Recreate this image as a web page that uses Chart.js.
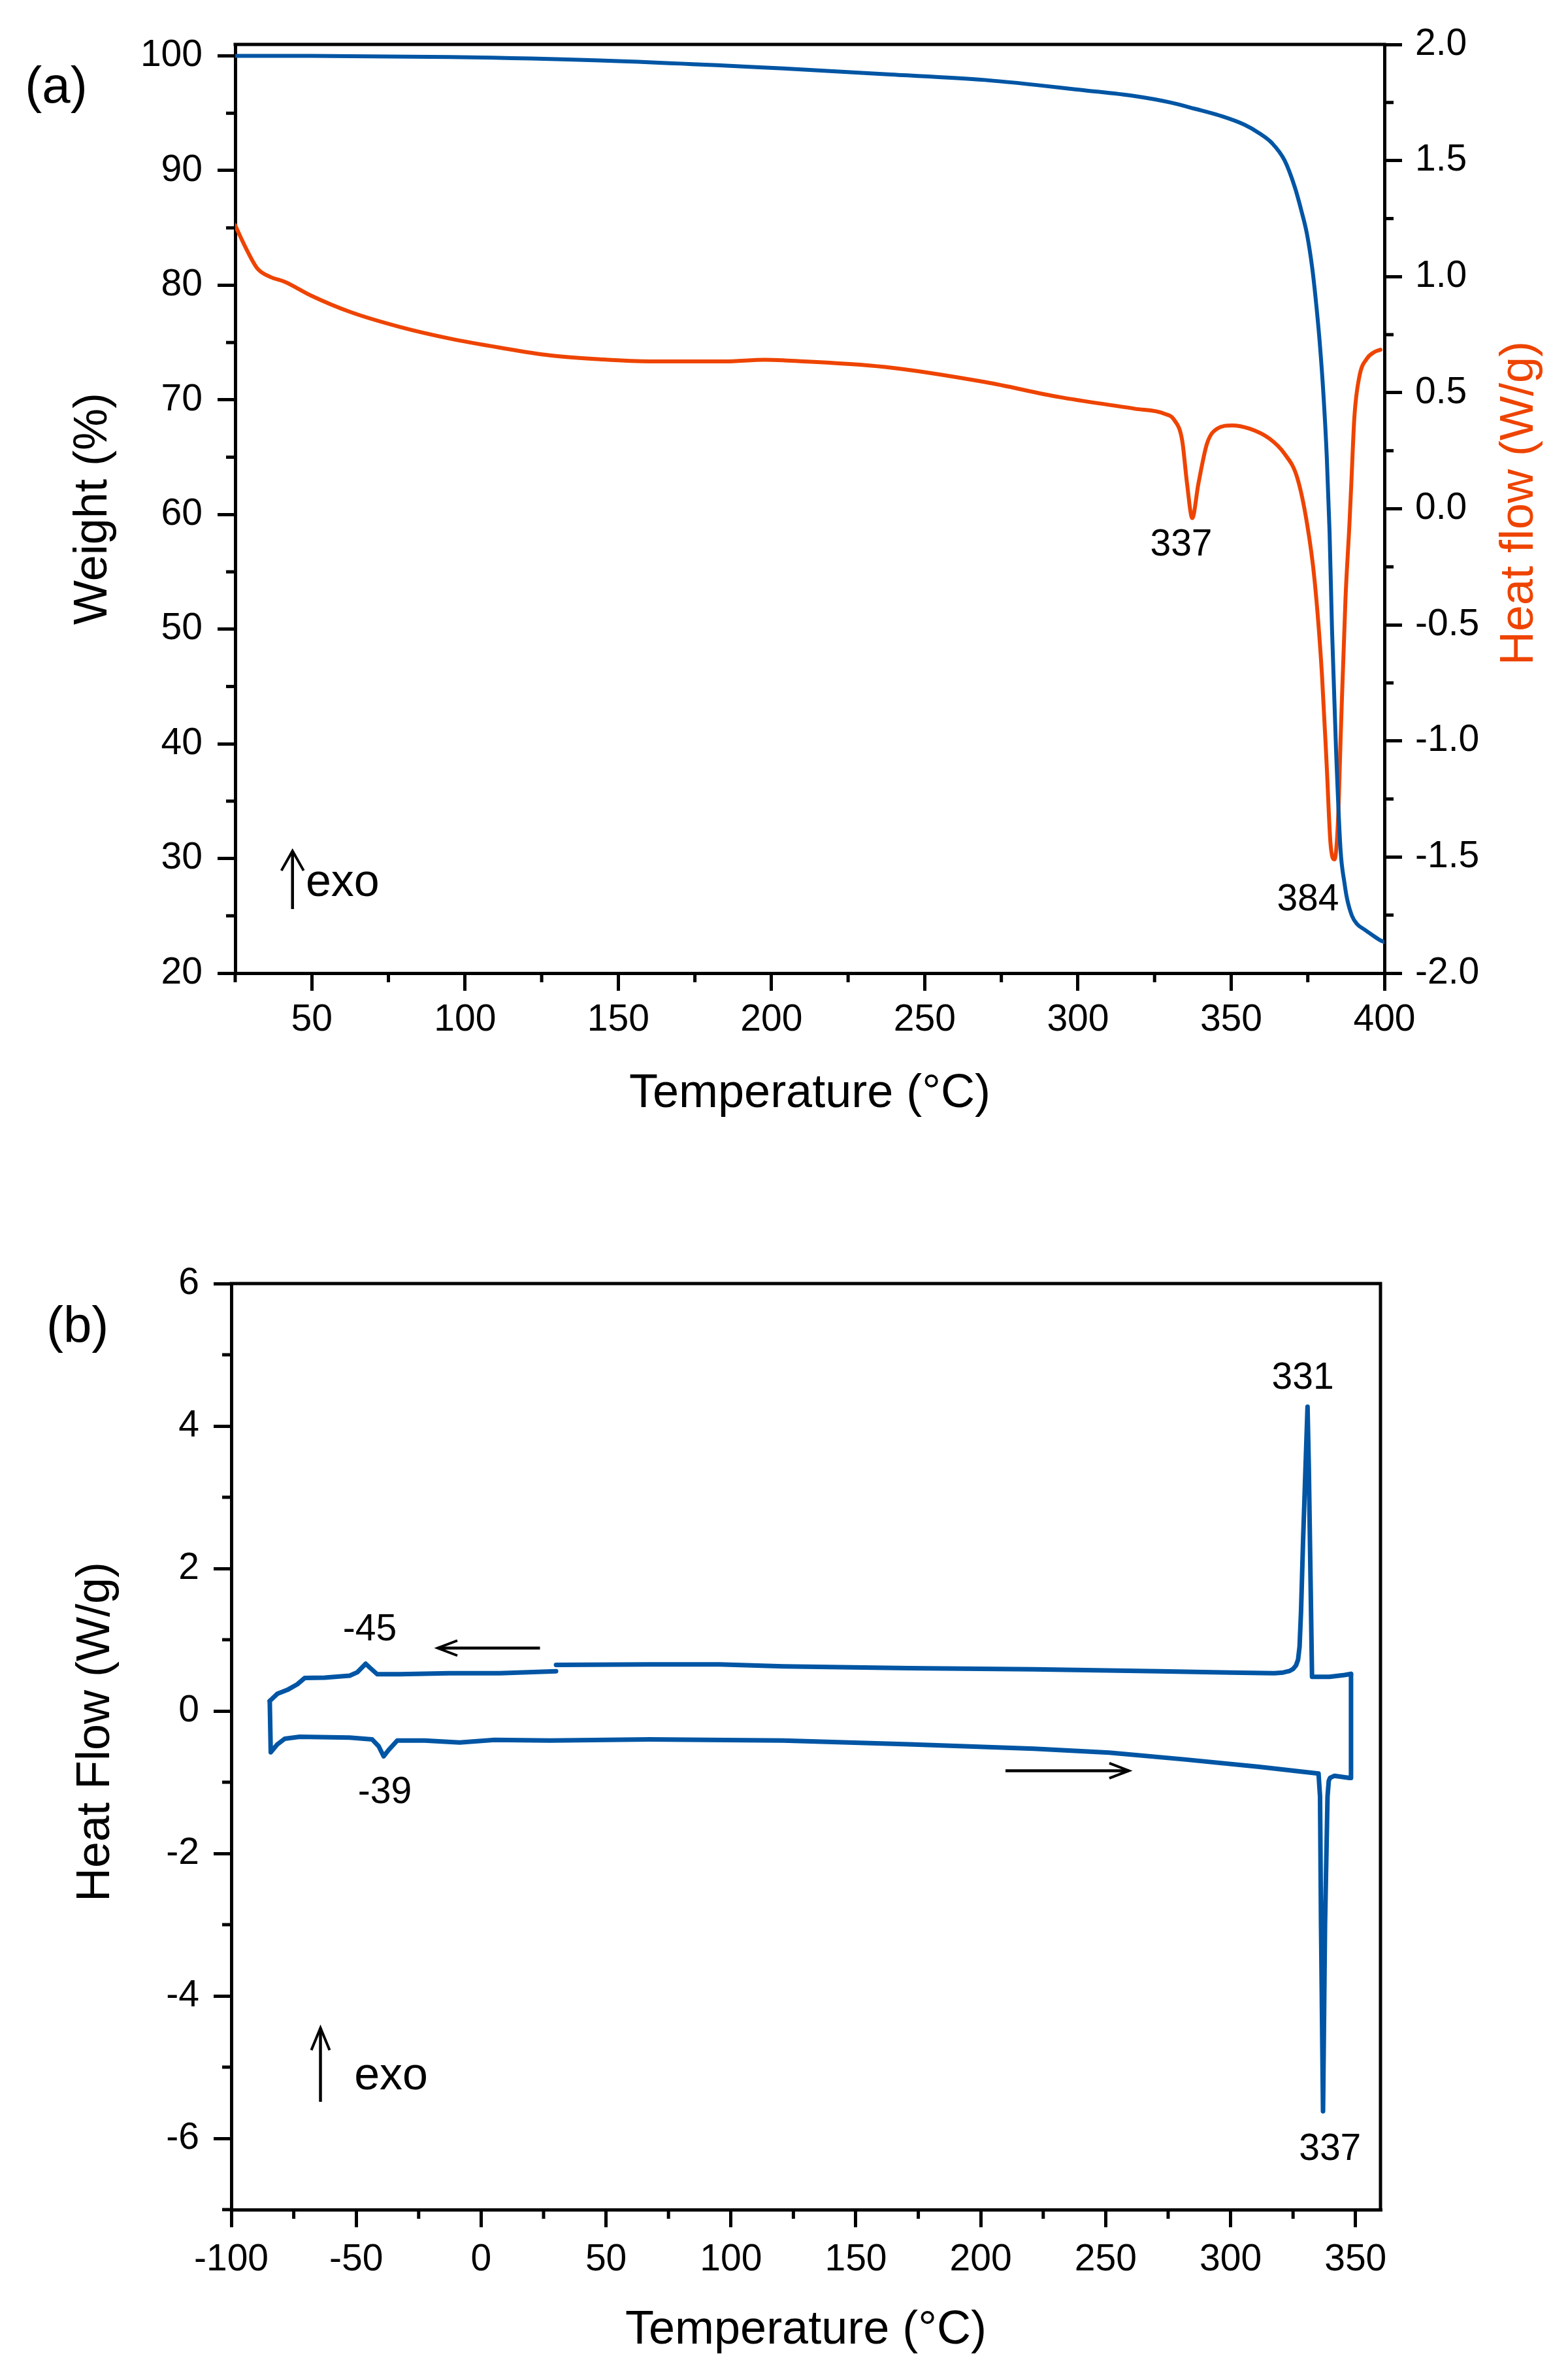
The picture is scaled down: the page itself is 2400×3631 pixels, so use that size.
<!DOCTYPE html>
<html>
<head>
<meta charset="utf-8">
<script src="https://cdn.jsdelivr.net/npm/chart.js@4.4.1/dist/chart.umd.min.js"></script>
<style>
  html, body { margin: 0; padding: 0; background: #ffffff; }
  #page { position: relative; width: 2400px; height: 3631px; background: #ffffff; }
  canvas { position: absolute; left: 0; display: block; }
</style>
</head>
<body>
<div id="page">
  <canvas id="chartA" width="2400" height="1800" style="top:0px;width:2400px;height:1800px;"></canvas>
  <canvas id="chartB" width="2400" height="1831" style="top:1800px;width:2400px;height:1831px;"></canvas>
</div>
<script>
// ================= DATA: panel (a) TGA / DSC =================
const tgaTemp   = [25, 50, 95, 144, 204, 237, 269.6, 302.2, 318.5, 330, 338, 346.2, 354.3, 359.2, 363.3, 367.4, 370.7, 373.1, 374.7, 376.4, 377.5, 378.8, 380.1, 381.2, 382.1, 382.9, 384.2, 385.7, 387.0, 387.8, 389.4, 391.0, 393.5, 395.9, 398.4, 400];
const tgaWeight = [100.0, 100.0, 99.9, 99.6, 98.9, 98.4, 97.9, 97.0, 96.5, 95.95, 95.4, 94.8, 94.0, 93.25, 92.4, 90.9, 88.6, 86.3, 84.5, 81.6, 79.0, 75.3, 70.5, 65.0, 58.5, 50.0, 39.6, 30.7, 27.8, 26.5, 25.0, 24.3, 23.8, 23.35, 22.9, 22.7];

const dscTemp = [25, 28.3, 32.3, 36.4, 41.3, 49.5, 62.5, 78.8, 95.1, 111.4, 127.7, 144, 160.3, 184.8, 197.8, 204.3, 237, 269.6, 294, 318.5, 328.3, 331.5, 334, 335.6, 337.3, 339.3, 342.1, 345.4, 350.3, 356, 362.5, 367.4, 371.5, 374.7, 377.2, 379.6, 381.2, 382.4, 383.7, 384.8, 385.8, 387.3, 388.6, 389.2, 390.2, 391.8, 394.3, 396.7, 398.7];
const dscFlow = [1.221, 1.128, 1.034, 0.999, 0.977, 0.920, 0.848, 0.783, 0.733, 0.694, 0.661, 0.644, 0.635, 0.635, 0.642, 0.639, 0.611, 0.546, 0.481, 0.431, 0.409, 0.381, 0.295, 0.108, -0.04, 0.108, 0.28, 0.345, 0.359, 0.345, 0.302, 0.237, 0.136, -0.06, -0.306, -0.71, -1.115, -1.44, -1.51, -1.36, -0.953, -0.387, -0.063, 0.108, 0.395, 0.568, 0.647, 0.675, 0.685];

const aXMajor  = [50, 100, 150, 200, 250, 300, 350, 400];
const aXMinor  = [25, 75, 125, 175, 225, 275, 325, 375];
const aYMajor  = [20, 30, 40, 50, 60, 70, 80, 90, 100];
const aYMinor  = [25, 35, 45, 55, 65, 75, 85, 95];
const aY2Major = [-2, -1.5, -1, -0.5, 0, 0.5, 1, 1.5, 2];
const aY2Minor = [-1.75, -1.25, -0.75, -0.25, 0.25, 0.75, 1.25, 1.75];

// ================= DATA: panel (b) DSC heating / cooling =================
const heatTemp = [-84.6, -84.2, -81.6, -78.6, -72.6, -52.6, -43.6, -41, -39, -37, -33.6, -22.6, -8.6, 5.4, 27.4, 67.4, 121, 171.2, 221.3, 251.4, 281.5, 311.5, 335.2, 335.8, 336.2, 337, 337.8, 338.8, 339.3, 339.8, 341.6, 347.6, 348.2, 348.2];
const heatFlow = [0.14, -0.58, -0.47, -0.39, -0.363, -0.374, -0.40, -0.495, -0.637, -0.547, -0.416, -0.416, -0.442, -0.405, -0.416, -0.40, -0.416, -0.468, -0.53, -0.584, -0.68, -0.784, -0.879, -1.2, -3.0, -5.62, -3.0, -1.2, -0.98, -0.94, -0.91, -0.94, -0.94, 0.52];

const coolTempHi = [348.2, 345.6, 339.6, 332.6, 332.0, 331.3, 330.8, 330.0, 329.0, 328.2, 327.6, 327.0, 326.2, 325.0, 323.5, 321.0, 317.5, 300, 271.4, 221.3, 171.2, 121, 95.4, 67.4, 30];
const coolFlowHi = [0.52, 0.505, 0.48, 0.48, 1.85, 3.43, 4.27, 3.43, 2.37, 1.4, 0.9, 0.72, 0.64, 0.59, 0.56, 0.54, 0.53, 0.54, 0.558, 0.584, 0.60, 0.626, 0.653, 0.653, 0.647];

const coolTempLo = [30, 7.4, -12.6, -32.6, -41.6, -44.6, -46.2, -49.6, -52.6, -62.6, -70.6, -73.6, -77.6, -81.6, -84.6];
const coolFlowLo = [0.558, 0.53, 0.53, 0.516, 0.516, 0.61, 0.663, 0.542, 0.495, 0.468, 0.463, 0.374, 0.295, 0.24, 0.14];

const bXMajor = [-100, -50, 0, 50, 100, 150, 200, 250, 300, 350];
const bXMinor = [-75, -25, 25, 75, 125, 175, 225, 275, 325];
const bYMajor = [-6, -4, -2, 0, 2, 4, 6];
const bYMinor = [-7, -5, -3, -1, 1, 3, 5];

// ================= STYLE =================
const FONT = "'Liberation Sans', Arial, Helvetica, sans-serif";
const BLUE = '#0055A4';
const ORANGE = '#EE4400';
const BLACK = '#000000';
const TICK_FONT = 57;
const TITLE_FONT = 72;

Chart.defaults.font.family = FONT;
Chart.defaults.color = BLACK;

function pts(xs, ys) { return xs.map((x, i) => ({ x: x, y: ys[i] })); }
function setTicks(vals) { return function (s) { s.ticks = vals.map(v => ({ value: v })); }; }

function axisBase(extra) {
  const base = {
    type: 'linear',
    grid: { display: true, drawOnChartArea: false, drawTicks: true, tickLength: 27,
            lineWidth: 5, tickWidth: 5, color: BLACK, tickColor: BLACK },
    border: { display: true, color: BLACK, width: 5 },
    ticks: { font: { size: TICK_FONT }, color: BLACK, autoSkip: false, maxRotation: 0, minRotation: 0 }
  };
  return Object.assign(base, extra);
}

function drawMinor(chart, id, values, len) {
  const s = chart.scales[id];
  const ctx = chart.ctx;
  ctx.save();
  ctx.strokeStyle = BLACK;
  ctx.lineWidth = 5;
  values.forEach(v => {
    const p = s.getPixelForValue(v);
    ctx.beginPath();
    if (s.position === 'left') { ctx.moveTo(s.right, p); ctx.lineTo(s.right - len, p); }
    else if (s.position === 'right') { ctx.moveTo(s.left, p); ctx.lineTo(s.left + len, p); }
    else { ctx.moveTo(p, s.top); ctx.lineTo(p, s.top + len); }
    ctx.stroke();
  });
  ctx.restore();
}

function drawFrame(chart, withRight) {
  const ca = chart.chartArea, ctx = chart.ctx;
  ctx.save();
  ctx.strokeStyle = BLACK;
  ctx.lineWidth = 5;
  ctx.beginPath();
  ctx.moveTo(ca.left - 2.5, ca.top);
  ctx.lineTo(ca.right + 2.5, ca.top);
  if (withRight) {
    ctx.moveTo(ca.right, ca.top);
    ctx.lineTo(ca.right, ca.bottom + 2.5);
  }
  ctx.stroke();
  ctx.restore();
}

function text(ctx, s, x, y, size, color, align, baseline, rot) {
  ctx.save();
  ctx.translate(x, y);
  if (rot) ctx.rotate(rot);
  ctx.font = size + 'px ' + FONT;
  ctx.fillStyle = color;
  ctx.textAlign = align || 'center';
  ctx.textBaseline = baseline || 'middle';
  ctx.fillText(s, 0, 0);
  ctx.restore();
}

function arrow(ctx, x1, y1, x2, y2, headLen, headHalf) {
  const ang = Math.atan2(y2 - y1, x2 - x1);
  ctx.save();
  ctx.strokeStyle = BLACK;
  ctx.lineWidth = 4.5;
  ctx.beginPath(); ctx.moveTo(x1, y1); ctx.lineTo(x2, y2); ctx.stroke();
  const bx = x2 - headLen * Math.cos(ang), by = y2 - headLen * Math.sin(ang);
  const px = -Math.sin(ang) * headHalf, py = Math.cos(ang) * headHalf;
  ctx.lineWidth = 4;
  ctx.beginPath(); ctx.moveTo(bx + px, by + py); ctx.lineTo(x2, y2); ctx.lineTo(bx - px, by - py); ctx.stroke();
  ctx.restore();
}

// annotation positions (data coordinates)
const aLabels = [
  { text: '337', x: 333.7, y: -0.156 },
  { text: '384', x: 375.05, y: -1.685 }
];
const aExo = { x: 43.7, yTip: -1.474, yBase: -1.724, textX: 48.0, textY: -1.668 };

const bLabels = [
  { text: '-45', x: -44.56, y: 1.138 },
  { text: '-39', x: -38.55, y: -1.147 },
  { text: '331', x: 328.9, y: 4.665 },
  { text: '337', x: 339.8, y: -6.156 }
];
const bArrows = [
  { x1: 23.56, y1: 0.883, x2: -17.36, y2: 0.883 },
  { x1: 209.9, y1: -0.839, x2: 259.3, y2: -0.839 }
];
const bExo = { x: -64.3, yTip: -4.45, yBase: -5.486, textX: -50.8, textY: -5.308 };

// ================= CHART (a) =================
const decorA = {
  id: 'decorA',
  afterDraw(chart) {
    const ctx = chart.ctx, sx = chart.scales.x, sy2 = chart.scales.y2;
    drawMinor(chart, 'x', aXMinor, 14);
    drawMinor(chart, 'y', aYMinor, 14);
    drawMinor(chart, 'y2', aY2Minor, 14);
    drawFrame(chart, false);
    aLabels.forEach(l => text(ctx, l.text, sx.getPixelForValue(l.x), sy2.getPixelForValue(l.y), TICK_FONT, BLACK));
    const ax = sx.getPixelForValue(aExo.x);
    arrow(ctx, ax, sy2.getPixelForValue(aExo.yBase), ax, sy2.getPixelForValue(aExo.yTip), 30, 17);
    text(ctx, 'exo', sx.getPixelForValue(aExo.textX), sy2.getPixelForValue(aExo.textY), 70, BLACK, 'left', 'alphabetic');
    text(ctx, '(a)', 86, 135, 78, BLACK);
    text(ctx, 'Heat flow (W/g)', 2326, 770, TITLE_FONT, ORANGE, 'center', 'middle', -Math.PI / 2);
  }
};

new Chart(document.getElementById('chartA'), {
  type: 'line',
  data: {
    datasets: [
      { label: 'Weight', data: pts(tgaTemp, tgaWeight), yAxisID: 'y', borderColor: BLUE, borderWidth: 6,
        pointRadius: 0, fill: false, cubicInterpolationMode: 'monotone', borderCapStyle: 'round', borderJoinStyle: 'round', order: 0 },
      { label: 'Heat flow', data: pts(dscTemp, dscFlow), yAxisID: 'y2', borderColor: ORANGE, borderWidth: 6,
        pointRadius: 0, fill: false, cubicInterpolationMode: 'monotone', borderCapStyle: 'round', borderJoinStyle: 'round', order: 1 }
    ]
  },
  options: {
    responsive: false, animation: false, devicePixelRatio: 1,
    layout: { padding: { top: 68, left: 0, right: 0, bottom: 0 } },
    plugins: { legend: { display: false }, tooltip: { enabled: false } },
    scales: {
      x: axisBase({
        position: 'bottom', min: 25, max: 400,
        afterBuildTicks: setTicks(aXMajor),
        afterFit: s => { s.height = 311; },
        ticks: { font: { size: TICK_FONT }, color: BLACK, autoSkip: false, maxRotation: 0, minRotation: 0, padding: 11,
                 callback: v => String(v) },
        title: { display: true, text: 'Temperature (°C)', font: { size: TITLE_FONT }, color: BLACK, padding: { top: 0, bottom: 83 } }
      }),
      y: axisBase({
        position: 'left', min: 20, max: 101,
        afterBuildTicks: setTicks(aYMajor),
        afterFit: s => { s.width = 360; },
        ticks: { font: { size: TICK_FONT }, color: BLACK, autoSkip: false, padding: 23, callback: v => String(v) },
        title: { display: true, text: 'Weight (%)', font: { size: TITLE_FONT }, color: BLACK, padding: { top: 100, bottom: 0 } }
      }),
      y2: axisBase({
        position: 'right', min: -2, max: 2,
        afterBuildTicks: setTicks(aY2Major),
        afterFit: s => { s.width = 281; },
        ticks: { font: { size: TICK_FONT }, color: BLACK, autoSkip: false, padding: 20, callback: v => Number(v).toFixed(1) }
      })
    }
  },
  plugins: [decorA]
});

// ================= CHART (b) =================
const decorB = {
  id: 'decorB',
  afterDraw(chart) {
    const ctx = chart.ctx, sx = chart.scales.x, sy = chart.scales.y;
    drawMinor(chart, 'x', bXMinor, 14);
    drawMinor(chart, 'y', bYMinor, 14);
    drawFrame(chart, true);
    bLabels.forEach(l => text(ctx, l.text, sx.getPixelForValue(l.x), sy.getPixelForValue(l.y), TICK_FONT, BLACK));
    bArrows.forEach(a => arrow(ctx, sx.getPixelForValue(a.x1), sy.getPixelForValue(a.y1),
                                    sx.getPixelForValue(a.x2), sy.getPixelForValue(a.y2), 30, 11.5));
    const ax = sx.getPixelForValue(bExo.x);
    arrow(ctx, ax, sy.getPixelForValue(bExo.yBase), ax, sy.getPixelForValue(bExo.yTip), 34, 14);
    text(ctx, 'exo', sx.getPixelForValue(bExo.textX), sy.getPixelForValue(bExo.textY), 70, BLACK, 'left', 'alphabetic');
    text(ctx, '(b)', 118.6, 232, 78, BLACK);
    text(ctx, 'Heat Flow (W/g)', 147.5, 850, TITLE_FONT, BLACK, 'center', 'middle', -Math.PI / 2);
  }
};

const lineB = { borderColor: BLUE, borderWidth: 7, pointRadius: 0, fill: false, tension: 0,
                borderCapStyle: 'round', borderJoinStyle: 'round' };

new Chart(document.getElementById('chartB'), {
  type: 'line',
  data: {
    datasets: [
      Object.assign({ label: 'Heating', data: pts(heatTemp, heatFlow) }, lineB),
      Object.assign({ label: 'Cooling (high T)', data: pts(coolTempHi, coolFlowHi) }, lineB),
      Object.assign({ label: 'Cooling (low T)', data: pts(coolTempLo, coolFlowLo) }, lineB)
    ]
  },
  options: {
    responsive: false, animation: false, devicePixelRatio: 1,
    layout: { padding: { top: 164, left: 0, right: 287, bottom: 0 } },
    plugins: { legend: { display: false }, tooltip: { enabled: false } },
    scales: {
      x: axisBase({
        position: 'bottom', min: -100, max: 360,
        afterBuildTicks: setTicks(bXMajor),
        afterFit: s => { s.height = 250; },
        ticks: { font: { size: TICK_FONT }, color: BLACK, autoSkip: false, maxRotation: 0, minRotation: 0, padding: 16,
                 callback: v => String(v) },
        title: { display: true, text: 'Temperature (°C)', font: { size: TITLE_FONT }, color: BLACK, padding: { top: 0, bottom: 22 } }
      }),
      y: axisBase({
        position: 'left', min: -7, max: 6,
        afterBuildTicks: setTicks(bYMajor),
        afterFit: s => { s.width = 354; },
        ticks: { font: { size: TICK_FONT }, color: BLACK, autoSkip: false, padding: 22, callback: v => String(v) }
      })
    }
  },
  plugins: [decorB]
});
</script>
</body>
</html>
